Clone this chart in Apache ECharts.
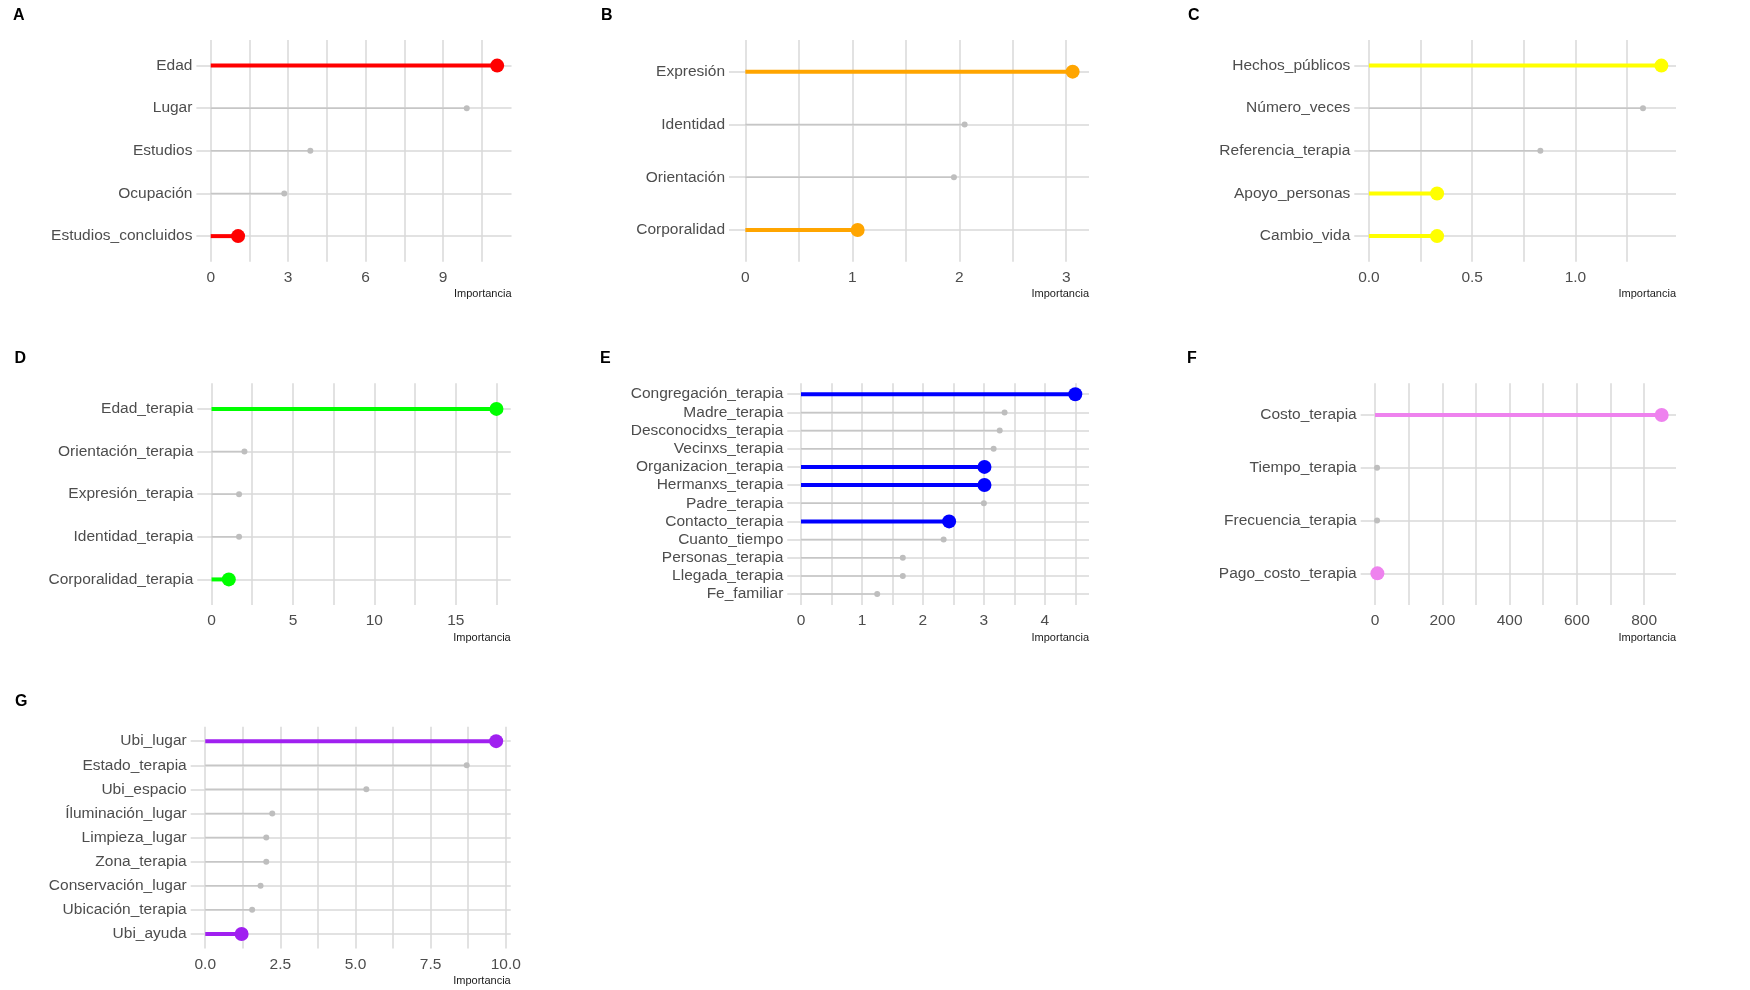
<!DOCTYPE html>
<html>
<head>
<meta charset="utf-8">
<script src="https://cdn.jsdelivr.net/npm/echarts@6/dist/echarts.min.js"></script>
<style>
  html, body { margin: 0; padding: 0; background: #ffffff; }
  #chart { width: 1750px; height: 990px; }
</style>
</head>
<body>
<div id="chart"></div>
<script>
// ---- Panel A ----
const catsA = ['Edad', 'Lugar', 'Estudios', 'Ocupación', 'Estudios_concluidos'];
const valsA = [11.1, 9.92, 3.86, 2.85, 1.06];
const keyA = ['Edad', 'Estudios_concluidos'];
const ticksA = [0, 3, 6, 9];
const minorA = [1.5, 4.5, 7.5, 10.5];

// ---- Panel B ----
const catsB = ['Expresión', 'Identidad', 'Orientación', 'Corporalidad'];
const valsB = [3.06, 2.05, 1.95, 1.05];
const keyB = ['Expresión', 'Corporalidad'];
const ticksB = [0, 1, 2, 3];
const minorB = [0.5, 1.5, 2.5];

// ---- Panel C ----
const catsC = ['Hechos_públicos', 'Número_veces', 'Referencia_terapia', 'Apoyo_personas', 'Cambio_vida'];
const valsC = [1.416, 1.327, 0.83, 0.33, 0.33];
const keyC = ['Hechos_públicos', 'Apoyo_personas', 'Cambio_vida'];
const ticksC = [0, 0.5, 1.0];
const minorC = [0.25, 0.75, 1.25];

// ---- Panel D ----
const catsD = ['Edad_terapia', 'Orientación_terapia', 'Expresión_terapia', 'Identidad_terapia', 'Corporalidad_terapia'];
const valsD = [17.5, 2.02, 1.69, 1.69, 1.06];
const keyD = ['Edad_terapia', 'Corporalidad_terapia'];
const ticksD = [0, 5, 10, 15];
const minorD = [2.5, 7.5, 12.5, 17.5];

// ---- Panel E ----
const catsE = ['Congregación_terapia', 'Madre_terapia', 'Desconocidxs_terapia', 'Vecinxs_terapia',
  'Organizacion_terapia', 'Hermanxs_terapia', 'Padre_terapia', 'Contacto_terapia',
  'Cuanto_tiempo', 'Personas_terapia', 'Llegada_terapia', 'Fe_familiar'];
const valsE = [4.50, 3.34, 3.26, 3.16, 3.01, 3.01, 3.00, 2.43, 2.34, 1.67, 1.67, 1.25];
const keyE = ['Congregación_terapia', 'Organizacion_terapia', 'Hermanxs_terapia', 'Contacto_terapia'];
const ticksE = [0, 1, 2, 3, 4];
const minorE = [0.5, 1.5, 2.5, 3.5, 4.5];

// ---- Panel F ----
const catsF = ['Costo_terapia', 'Tiempo_terapia', 'Frecuencia_terapia', 'Pago_costo_terapia'];
const valsF = [852, 6, 6, 7];
const keyF = ['Costo_terapia', 'Pago_costo_terapia'];
const ticksF = [0, 200, 400, 600, 800];
const minorF = [100, 300, 500, 700];

// ---- Panel G ----
const catsG = ['Ubi_lugar', 'Estado_terapia', 'Ubi_espacio', 'Íluminación_lugar', 'Limpieza_lugar',
  'Zona_terapia', 'Conservación_lugar', 'Ubicación_terapia', 'Ubi_ayuda'];
const valsG = [9.68, 8.70, 5.36, 2.23, 2.03, 2.03, 1.84, 1.56, 1.21];
const keyG = ['Ubi_lugar', 'Ubi_ayuda'];
const ticksG = [0, 2.5, 5.0, 7.5, 10.0];
const minorG = [1.25, 3.75, 6.25, 8.75];

// Styling
const FONT = '"Liberation Sans", Arial, sans-serif';
const TEXT = '#4d4d4d';
const GRID = '#d8d8d8';
const GREY = '#bebebe';

// Panel layout: plot area in pixels, tag placement, highlight colour, label decimals
const panels = [
  { tag: 'A', cats: catsA, vals: valsA, key: keyA, ticks: ticksA, minor: minorA, color: '#FF0000', dec: 0,
    left: 196.4, top: 40,    width: 315.1, height: 221.7, tagX: 13,   tagY: 8 },
  { tag: 'B', cats: catsB, vals: valsB, key: keyB, ticks: ticksB, minor: minorB, color: '#FFA500', dec: 0,
    left: 729,   top: 40,    width: 360,   height: 221.7, tagX: 601,  tagY: 8 },
  { tag: 'C', cats: catsC, vals: valsC, key: keyC, ticks: ticksC, minor: minorC, color: '#FFFF00', dec: 1,
    left: 1354.3, top: 40,   width: 321.7, height: 221.7, tagX: 1188, tagY: 8 },
  { tag: 'D', cats: catsD, vals: valsD, key: keyD, ticks: ticksD, minor: minorD, color: '#00FF00', dec: 0,
    left: 197.3, top: 383.3, width: 313.4, height: 221.7, tagX: 14.5, tagY: 351 },
  { tag: 'E', cats: catsE, vals: valsE, key: keyE, ticks: ticksE, minor: minorE, color: '#0000FF', dec: 0,
    left: 787.3, top: 383.3, width: 301.7, height: 221.7, tagX: 600,  tagY: 351 },
  { tag: 'F', cats: catsF, vals: valsF, key: keyF, ticks: ticksF, minor: minorF, color: '#EE82EE', dec: 0,
    left: 1360.7, top: 383.3, width: 315.3, height: 221.7, tagX: 1187, tagY: 351 },
  { tag: 'G', cats: catsG, vals: valsG, key: keyG, ticks: ticksG, minor: minorG, color: '#A020F0', dec: 1,
    left: 190.7, top: 726.7, width: 320,   height: 221.7, tagX: 15,   tagY: 694 }
];

const grid = [], xAxis = [], yAxis = [], series = [], title = [];

// Horizontal segment from 0 to the value, drawn through the axis scales
function segmentRenderer(color, width) {
  return function (params, api) {
    const v = api.value(0), y = api.value(1);
    const p0 = api.coord([0, y]);
    const p1 = api.coord([v, y]);
    return {
      type: 'line',
      shape: { x1: p0[0], y1: p0[1], x2: p1[0], y2: p1[1] },
      style: { stroke: color, lineWidth: width, lineCap: 'butt' }
    };
  };
}

panels.forEach((p, i) => {
  const n = p.cats.length;
  const maxV = Math.max(...p.vals);
  const idx = p.cats.map((_, k) => k);

  grid.push({ left: p.left, top: p.top, width: p.width, height: p.height, containLabel: false });

  xAxis.push({
    gridIndex: i,
    type: 'value',
    position: 'bottom',
    min: -0.05 * maxV,
    max: 1.05 * maxV,
    axisLine: { show: false, onZero: false },
    axisTick: { show: false, customValues: p.ticks.concat(p.minor) },
    axisLabel: {
      customValues: p.ticks,
      margin: 8,
      fontSize: 15.5,
      fontFamily: FONT,
      color: TEXT,
      formatter: v => Number(v).toFixed(p.dec)
    },
    splitLine: { show: true, lineStyle: { color: GRID, width: 1.5 } },
    name: 'Importancia',
    nameLocation: 'end',
    nameGap: 0,
    nameTextStyle: {
      align: 'right', verticalAlign: 'top', padding: [27, 0, 0, 0],
      fontSize: 11, fontFamily: FONT, color: '#1a1a1a'
    }
  });

  yAxis.push({
    gridIndex: i,
    type: 'value',
    position: 'left',
    inverse: true,
    min: -0.6,
    max: n - 0.4,
    axisLine: { show: false, onZero: false },
    axisTick: { show: false, customValues: idx },
    axisLabel: {
      customValues: idx,
      margin: 4,
      fontSize: 15.5,
      fontFamily: FONT,
      color: TEXT,
      formatter: v => p.cats[Math.round(v)]
    },
    splitLine: { show: true, lineStyle: { color: GRID, width: 1.5 } }
  });

  const hiData = [], loData = [];
  p.cats.forEach((c, k) => {
    (p.key.includes(c) ? hiData : loData).push([p.vals[k], k]);
  });

  series.push({
    type: 'custom', xAxisIndex: i, yAxisIndex: i, z: 2, silent: true,
    renderItem: segmentRenderer('#c6c6c6', 1.5),
    encode: { x: 0, y: 1 }, data: loData
  });
  series.push({
    type: 'custom', xAxisIndex: i, yAxisIndex: i, z: 3, silent: true,
    renderItem: segmentRenderer(p.color, 4),
    encode: { x: 0, y: 1 }, data: hiData
  });
  series.push({
    type: 'scatter', xAxisIndex: i, yAxisIndex: i, z: 4, silent: true,
    symbol: 'circle', symbolSize: 6, itemStyle: { color: GREY, opacity: 1 },
    data: loData
  });
  series.push({
    type: 'scatter', xAxisIndex: i, yAxisIndex: i, z: 5, silent: true,
    symbol: 'circle', symbolSize: 14, itemStyle: { color: p.color, opacity: 1 },
    data: hiData
  });

  title.push({
    text: p.tag, left: p.tagX, top: p.tagY, padding: 0,
    textStyle: { fontSize: 16, fontWeight: 'bold', color: '#000000', fontFamily: FONT }
  });
});

const chart = echarts.init(document.getElementById('chart'), null, { renderer: 'canvas' });
chart.setOption({
  animation: false,
  backgroundColor: '#ffffff',
  title, grid, xAxis, yAxis, series
});
</script>
</body>
</html>
